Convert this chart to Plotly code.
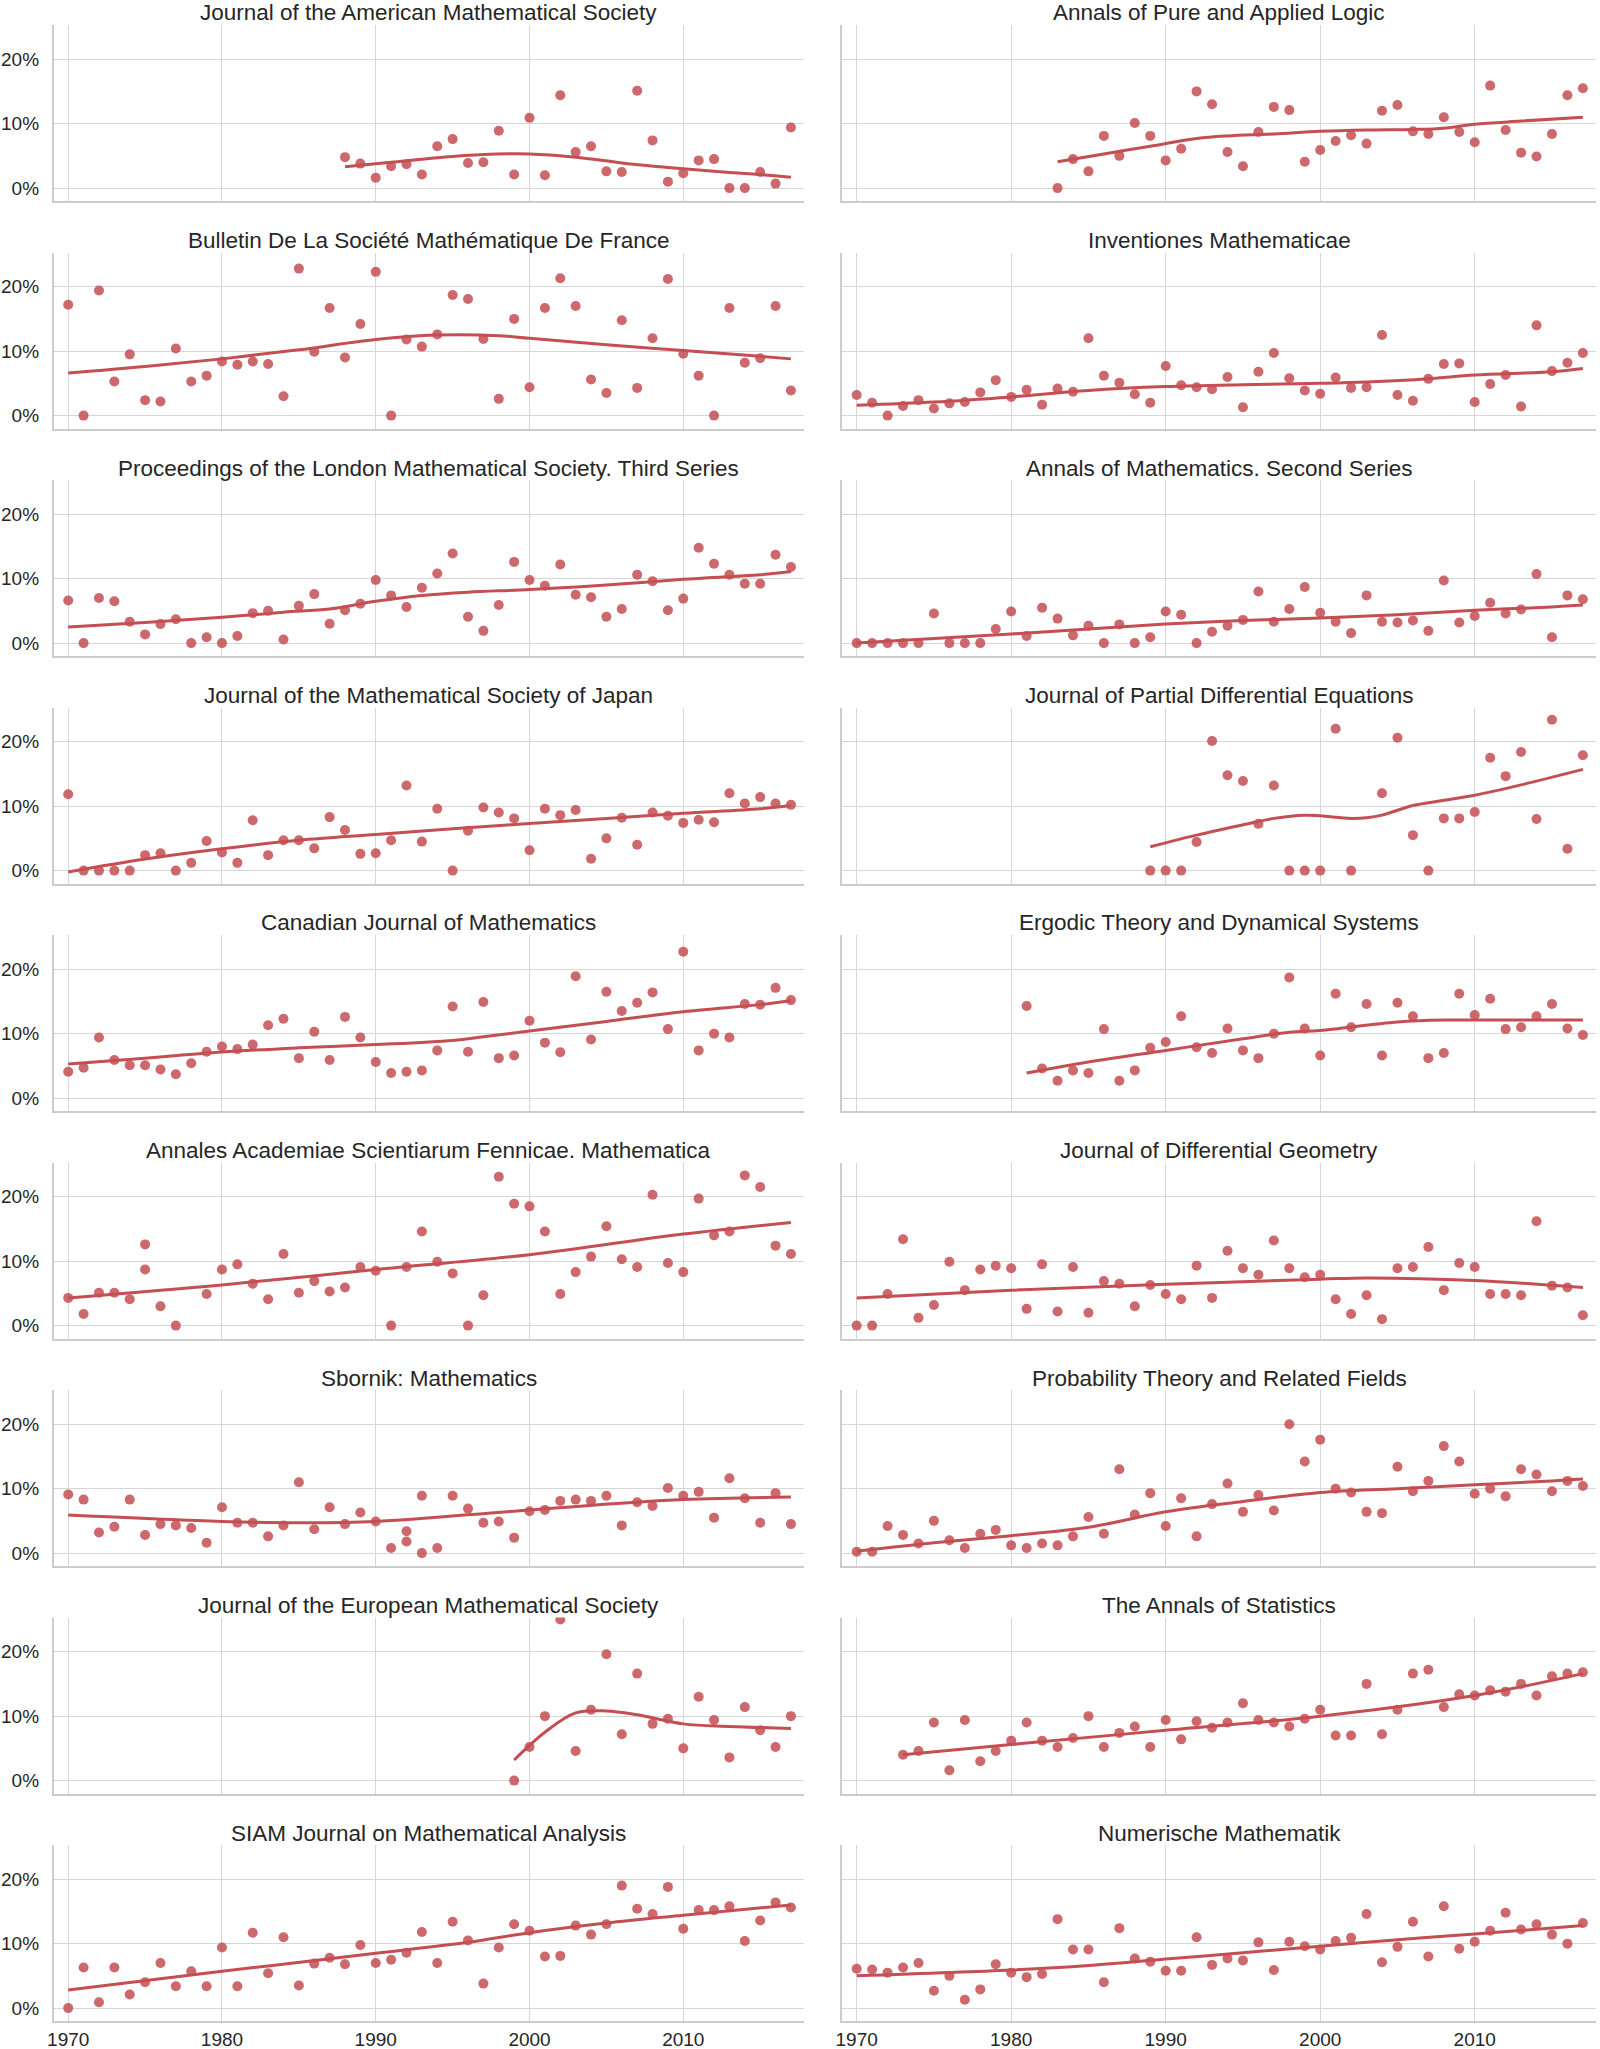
import plotly.graph_objects as go

# ---------------- data (percent) ----------------
titles = [
    "Journal of the American Mathematical Society", "Annals of Pure and Applied Logic",
    "Bulletin De La Société Mathématique De France", "Inventiones Mathematicae",
    "Proceedings of the London Mathematical Society. Third Series", "Annals of Mathematics. Second Series",
    "Journal of the Mathematical Society of Japan", "Journal of Partial Differential Equations",
    "Canadian Journal of Mathematics", "Ergodic Theory and Dynamical Systems",
    "Annales Academiae Scientiarum Fennicae. Mathematica", "Journal of Differential Geometry",
    "Sbornik: Mathematics", "Probability Theory and Related Fields",
    "Journal of the European Mathematical Society", "The Annals of Statistics",
    "SIAM Journal on Mathematical Analysis", "Numerische Mathematik",
]

x_ticks = [1970, 1980, 1990, 2000, 2010]
x_ticklabels = ["1970", "1980", "1990", "2000", "2010"]
y_ticks = [0, 10, 20]
y_ticklabels = ["0%", "10%", "20%"]

jams_years = list(range(1988, 2018))
jams_vals = [4.8, 3.8, 1.6, 3.4, 3.7, 2.1, 6.5, 7.6, 3.9, 4.0, 8.9, 2.1, 10.9, 2.0, 14.4, 5.6, 6.5, 2.6, 2.5, 15.1,
             7.4, 1.0, 2.3, 4.3, 4.5, 0, 0, 2.5, 0.7, 9.4]
jams_trend_years = [1988, 1991, 1994, 1997, 2000, 2003, 2006, 2009, 2012, 2015, 2017]
jams_trend = [3.3, 4.0, 4.7, 5.2, 5.3, 4.8, 3.9, 3.2, 2.6, 2.1, 1.7]

apal_years = list(range(1983, 2018))
apal_vals = [0, 4.5, 2.6, 8.1, 5.0, 10.1, 8.1, 4.3, 6.1, 15.0, 13.0, 5.6, 3.4, 8.7, 12.6, 12.1, 4.1, 5.9, 7.3, 8.2,
             6.9, 12.0, 12.9, 8.8, 8.4, 11.0, 8.7, 7.1, 15.9, 9.0, 5.5, 4.9, 8.4, 14.4, 15.5]
apal_trend_years = [1983, 1986, 1989, 1992, 1994, 1997, 2000, 2003, 2006, 2008, 2010, 2013, 2017]
apal_trend = [4.1, 5.3, 6.5, 7.7, 8.1, 8.4, 8.8, 9.0, 9.1, 9.3, 9.9, 10.4, 11.0]

bsmf_years = list(range(1970, 2018))
bsmf_vals = [17.2, 0, 19.4, 5.3, 9.5, 2.4, 2.2, 10.4, 5.3, 6.2,
             8.4, 7.9, 8.4, 8.0, 3.0, 22.8, 9.9, 16.7, 9.0, 14.2,
             22.3, 0, 11.8, 10.7, 12.6, 18.7, 18.1, 11.9, 2.6, 15.0,
             4.4, 16.7, 21.3, 17.0, 5.6, 3.5, 14.8, 4.3, 12.0, 21.2,
             9.6, 6.2, 0, 16.7, 8.2, 8.9, 17.0, 3.9]
bsmf_trend_years = [1970, 1975, 1980, 1985, 1990, 1994, 1998, 2000, 2005, 2010, 2015, 2017]
bsmf_trend = [6.6, 7.6, 8.8, 10.2, 11.8, 12.5, 12.4, 12.0, 11.0, 10.1, 9.2, 8.8]

inv_years = list(range(1970, 2018))
inv_vals = [3.2, 2.0, 0, 1.5, 2.4, 1.1, 1.9, 2.1, 3.6, 5.5,
            2.9, 4.0, 1.7, 4.2, 3.7, 12.0, 6.2, 5.1, 3.3, 2.0,
            7.7, 4.7, 4.4, 4.1, 6.0, 1.3, 6.8, 9.7, 5.8, 3.9,
            3.4, 5.9, 4.3, 4.4, 12.5, 3.2, 2.3, 5.7, 8.0, 8.1,
            2.1, 4.9, 6.3, 1.4, 14.0, 6.9, 8.2, 9.7]
inv_trend_years = [1970, 1975, 1980, 1985, 1990, 1995, 2000, 2003, 2007, 2010, 2015, 2017]
inv_trend = [1.6, 2.1, 2.9, 3.9, 4.5, 4.8, 5.0, 5.2, 5.7, 6.3, 6.8, 7.3]

plms_years = list(range(1970, 2018))
plms_vals = [6.6, 0, 7.0, 6.5, 3.3, 1.35, 2.95, 3.7, 0, 0.9,
             0, 1.1, 4.65, 5.0, 0.55, 5.8, 7.6, 3.0, 5.1, 6.1,
             9.8, 7.4, 5.6, 8.6, 10.8, 13.9, 4.1, 1.9, 5.9, 12.6,
             9.8, 8.9, 12.2, 7.5, 7.1, 4.1, 5.3, 10.6, 9.6, 5.1,
             6.9, 14.8, 12.3, 10.6, 9.2, 9.2, 13.7, 11.8]
plms_trend_years = [1970, 1975, 1980, 1984, 1987, 1990, 1993, 1996, 2000, 2005, 2010, 2015, 2017]
plms_trend = [2.5, 3.2, 4.0, 4.8, 5.3, 6.5, 7.4, 7.9, 8.3, 9.0, 9.9, 10.6, 11.1]

amath_years = list(range(1970, 2018))
amath_vals = [0, 0, 0, 0, 0, 4.6, 0, 0, 0, 2.2,
              4.9, 1.1, 5.5, 3.8, 1.2, 2.7, 0, 2.9, 0, 0.9,
              4.9, 4.4, 0, 1.75, 2.7, 3.6, 8.0, 3.3, 5.3, 8.7,
              4.7, 3.3, 1.55, 7.4, 3.3, 3.2, 3.5, 1.9, 9.7, 3.2,
              4.2, 6.25, 4.6, 5.2, 10.7, 0.9, 7.4, 6.8]
amath_trend_years = [1970, 1975, 1980, 1985, 1990, 1995, 2000, 2005, 2010, 2015, 2017]
amath_trend = [0, 0.7, 1.4, 2.2, 2.95, 3.5, 3.9, 4.4, 5.1, 5.6, 5.9]

jmsj_years = list(range(1970, 2018))
jmsj_vals = [11.85, 0, 0, 0, 0, 2.4, 2.7, 0, 1.2, 4.6,
             2.8, 1.2, 7.8, 2.4, 4.7, 4.7, 3.45, 8.3, 6.3, 2.6,
             2.7, 4.7, 13.2, 4.5, 9.6, 0, 6.2, 9.8, 9.0, 8.1,
             3.15, 9.6, 8.6, 9.4, 1.85, 5.0, 8.2, 4.0, 9.0, 8.5,
             7.4, 7.9, 7.5, 12.0, 10.4, 11.4, 10.4, 10.2]
jmsj_trend_years = [1970, 1975, 1980, 1985, 1990, 1995, 2000, 2005, 2010, 2015, 2017]
jmsj_trend = [-0.2, 1.8, 3.4, 4.7, 5.6, 6.5, 7.3, 8.1, 8.9, 9.6, 10.1]

jpde_years = [1989, 1990, 1991, 1992, 1993, 1994, 1995, 1996, 1997, 1998, 1999, 2000, 2001, 2002,
              2004, 2005, 2006, 2007, 2008, 2009, 2010, 2011, 2012, 2013, 2014, 2015, 2016, 2017]
jpde_vals = [0, 0, 0, 4.45, 20.1, 14.8, 13.9, 7.25, 13.2, 0, 0, 0, 22.0, 0,
             12.0, 20.6, 5.5, 0, 8.1, 8.1, 9.1, 17.5, 14.65, 18.4, 8.0, 23.4, 3.4, 17.9]
jpde_trend_years = [1989, 1992, 1995, 1997, 1999, 2000, 2002, 2003, 2004, 2006, 2008, 2010, 2013, 2017]
jpde_trend = [3.7, 5.5, 7.1, 8.1, 8.6, 8.5, 8.1, 8.2, 8.6, 10.1, 10.9, 11.7, 13.3, 15.7]

cjm_years = list(range(1970, 2018))
cjm_vals = [4.1, 4.7, 9.4, 5.9, 5.1, 5.1, 4.45, 3.7, 5.4, 7.2,
            8.0, 7.6, 8.3, 11.3, 12.3, 6.2, 10.3, 5.9, 12.6, 9.4,
            5.6, 3.9, 4.1, 4.3, 7.4, 14.2, 7.2, 14.9, 6.2, 6.6,
            12.0, 8.6, 7.1, 18.9, 9.1, 16.5, 13.5, 14.8, 16.4, 10.7,
            22.7, 7.4, 10.0, 9.4, 14.6, 14.5, 17.1, 15.2]
cjm_trend_years = [1970, 1975, 1980, 1985, 1990, 1995, 1997, 2000, 2005, 2010, 2015, 2017]
cjm_trend = [5.3, 6.2, 7.15, 7.8, 8.3, 8.95, 9.5, 10.4, 11.9, 13.4, 14.5, 15.1]

etds_years = list(range(1981, 2018))
etds_vals = [14.3, 4.6, 2.7, 4.3, 3.9, 10.7, 2.7, 4.3, 7.8,
             8.7, 12.7, 7.9, 7.0, 10.8, 7.4, 6.2, 10.0, 18.7, 10.8,
             6.6, 16.2, 11.0, 14.6, 6.6, 14.8, 12.7, 6.2, 7.0, 16.2,
             12.9, 15.4, 10.7, 11.0, 12.7, 14.6, 10.8, 9.8]
etds_trend_years = [1981, 1985, 1990, 1995, 1998, 2000, 2005, 2008, 2012, 2017]
etds_trend = [3.9, 5.6, 7.4, 9.2, 10.2, 10.5, 11.8, 12.1, 12.1, 12.1]

aasf_years = [1970, 1971, 1972, 1973, 1974, 1975, 1975, 1976, 1977, 1979,
              1980, 1981, 1982, 1983, 1984, 1985, 1986, 1987, 1988, 1989,
              1990, 1991, 1992, 1993, 1994, 1995, 1996, 1997, 1998, 1999,
              2000, 2001, 2002, 2003, 2004, 2005, 2006, 2007, 2008, 2009,
              2010, 2011, 2012, 2013, 2014, 2015, 2016, 2017]
aasf_vals = [4.3, 1.8, 5.1, 5.1, 4.1, 12.6, 8.7, 3.0, 0, 4.9,
             8.7, 9.5, 6.5, 4.1, 11.1, 5.1, 6.9, 5.3, 5.9, 9.1,
             8.5, 0, 9.1, 14.6, 9.9, 8.1, 0, 4.7, 23.1, 18.9,
             18.5, 14.6, 4.9, 8.3, 10.7, 15.4, 10.3, 9.1, 20.3, 9.7,
             8.3, 19.7, 14.0, 14.6, 23.3, 21.5, 12.4, 11.1]
aasf_trend_years = [1970, 1980, 1990, 2000, 2010, 2017]
aasf_trend = [4.3, 6.3, 8.7, 11.0, 14.2, 16.0]

jdg_years = list(range(1970, 2018))
jdg_vals = [0, 0, 4.9, 13.4, 1.2, 3.2, 9.9, 5.5, 8.7, 9.3,
            8.9, 2.6, 9.5, 2.2, 9.1, 2.0, 6.9, 6.5, 3.0, 6.3,
            4.9, 4.1, 9.3, 4.3, 11.6, 8.9, 7.9, 13.2, 8.9, 7.5,
            7.9, 4.1, 1.8, 4.7, 1.0, 8.9, 9.1, 12.2, 5.5, 9.7,
            9.1, 4.9, 4.9, 4.7, 16.2, 6.2, 5.9, 1.6]
jdg_trend_years = [1970, 1980, 1990, 2000, 2003, 2010, 2017]
jdg_trend = [4.3, 5.5, 6.4, 7.2, 7.4, 7.0, 5.9]

sbor_years = [1970, 1971, 1972, 1973, 1974, 1975, 1976, 1977, 1978, 1979,
              1980, 1981, 1982, 1983, 1984, 1985, 1986, 1987, 1988, 1989,
              1990, 1991, 1992, 1992, 1993, 1993, 1994, 1995, 1996, 1997, 1998, 1999,
              2000, 2001, 2002, 2003, 2004, 2005, 2006, 2007, 2008, 2009,
              2010, 2011, 2012, 2013, 2014, 2015, 2016, 2017]
sbor_vals = [9.1, 8.3, 3.2, 4.1, 8.3, 2.8, 4.5, 4.3, 3.9, 1.6,
             7.1, 4.7, 4.7, 2.6, 4.3, 11.0, 3.7, 7.1, 4.5, 6.3,
             4.9, 0.8, 3.4, 1.8, 0, 8.9, 0.8, 8.9, 6.9, 4.7, 4.9, 2.4,
             6.5, 6.7, 8.1, 8.3, 8.1, 8.9, 4.3, 7.9, 7.3, 10.1,
             8.9, 9.5, 5.5, 11.6, 8.5, 4.7, 9.3, 4.5]
sbor_trend_years = [1970, 1980, 1985, 1990, 2000, 2010, 2017]
sbor_trend = [5.9, 4.9, 4.7, 4.9, 6.7, 8.3, 8.7]

ptrf_years = list(range(1970, 2018))
ptrf_vals = [0.2, 0.2, 4.2, 2.8, 1.5, 5.0, 2.0, 0.8, 3.0, 3.6,
             1.2, 0.8, 1.5, 1.2, 2.6, 5.6, 3.0, 13.0, 6.0, 9.3,
             4.2, 8.5, 2.6, 7.6, 10.8, 6.4, 9.0, 6.6, 20.0, 14.2,
             17.6, 10.0, 9.4, 6.4, 6.2, 13.4, 9.6, 11.2, 16.6, 14.2,
             9.2, 10.0, 8.8, 13.0, 12.2, 9.6, 11.2, 10.4]
ptrf_trend_years = [1970, 1975, 1980, 1985, 1990, 1995, 2000, 2005, 2010, 2015, 2017]
ptrf_trend = [0.3, 1.6, 2.7, 4.0, 6.4, 8.0, 9.4, 10.0, 10.6, 11.2, 11.5]

jems_years = list(range(1999, 2018))
jems_vals = [0, 5.2, 10.0, 25.0, 4.6, 11.0, 19.6, 7.2, 16.6, 8.8, 9.6, 5.0, 13.0, 9.4, 3.6, 11.4, 7.8, 5.2, 10.0]
jems_trend_years = [1999, 2001, 2003, 2005, 2007, 2010, 2013, 2017]
jems_trend = [3.2, 7.5, 10.5, 10.8, 10.2, 8.8, 8.4, 8.1]

aos_years = list(range(1973, 2018))
aos_vals = [4.0, 4.6, 9.0, 1.6, 9.4, 3.0, 4.6, 6.2, 9.0, 6.2,
            5.2, 6.6, 10.0, 5.2, 7.4, 8.4, 5.2, 9.4, 6.4, 9.2,
            8.2, 9.0, 12.0, 9.4, 9.0, 8.4, 9.6, 11.0, 7.0, 7.0,
            15.0, 7.2, 11.0, 16.6, 17.2, 11.4, 13.4, 13.2, 14.0, 13.8,
            15.0, 13.2, 16.2, 16.6, 16.8]
aos_trend_years = [1973, 1980, 1990, 2000, 2010, 2017]
aos_trend = [4.0, 5.6, 7.8, 10.0, 13.2, 16.6]

siam_years = list(range(1970, 2018))
siam_vals = [0, 6.3, 0.9, 6.3, 2.1, 4.0, 7.0, 3.4, 5.7, 3.4,
             9.4, 3.4, 11.7, 5.4, 11.0, 3.5, 6.9, 7.8, 6.8, 9.8,
             7.0, 7.5, 8.6, 11.8, 7.0, 13.4, 10.5, 3.8, 9.4, 13.0,
             12.0, 8.0, 8.1, 12.8, 11.4, 13.0, 19.0, 15.4, 14.6, 18.8,
             12.3, 15.2, 15.2, 15.8, 10.4, 13.6, 16.4, 15.6]
siam_trend_years = [1970, 1980, 1990, 1996, 2000, 2005, 2010, 2017]
siam_trend = [2.8, 5.7, 8.5, 10.2, 11.7, 13.2, 14.4, 16.0]

num_years = list(range(1970, 2018))
num_vals = [6.1, 6.0, 5.5, 6.3, 7.0, 2.7, 5.0, 1.3, 2.9, 6.8,
            5.5, 4.8, 5.3, 13.8, 9.1, 9.1, 4.0, 12.4, 7.7, 7.2,
            5.8, 5.8, 11.0, 6.7, 7.7, 7.4, 10.2, 5.9, 10.3, 9.6,
            9.1, 10.4, 10.9, 14.6, 7.1, 9.5, 13.4, 8.0, 15.8, 9.2,
            10.3, 12.0, 14.8, 12.2, 13.0, 11.4, 10.0, 13.2]
num_trend_years = [1970, 1980, 1985, 1990, 1995, 2000, 2005, 2010, 2017]
num_trend = [5.0, 5.9, 6.6, 7.6, 8.6, 9.6, 10.6, 11.5, 12.8]

panels = [
    (jams_years, jams_vals, jams_trend_years, jams_trend),
    (apal_years, apal_vals, apal_trend_years, apal_trend),
    (bsmf_years, bsmf_vals, bsmf_trend_years, bsmf_trend),
    (inv_years, inv_vals, inv_trend_years, inv_trend),
    (plms_years, plms_vals, plms_trend_years, plms_trend),
    (amath_years, amath_vals, amath_trend_years, amath_trend),
    (jmsj_years, jmsj_vals, jmsj_trend_years, jmsj_trend),
    (jpde_years, jpde_vals, jpde_trend_years, jpde_trend),
    (cjm_years, cjm_vals, cjm_trend_years, cjm_trend),
    (etds_years, etds_vals, etds_trend_years, etds_trend),
    (aasf_years, aasf_vals, aasf_trend_years, aasf_trend),
    (jdg_years, jdg_vals, jdg_trend_years, jdg_trend),
    (sbor_years, sbor_vals, sbor_trend_years, sbor_trend),
    (ptrf_years, ptrf_vals, ptrf_trend_years, ptrf_trend),
    (jems_years, jems_vals, jems_trend_years, jems_trend),
    (aos_years, aos_vals, aos_trend_years, aos_trend),
    (siam_years, siam_vals, siam_trend_years, siam_trend),
    (num_years, num_vals, num_trend_years, num_trend),
]

# ---------------- figure ----------------
W, H = 1600, 2049
FONT = "Arial, Liberation Sans, sans-serif"
TXT = "#262626"
GRID = "#d6d6d6"
SPINE = "#cccccc"
DOT = "rgba(196,78,82,0.85)"
LINE = "#c44e52"

col_px = [(53.6, 804.0), (842.0, 1596.0)]   # page pixels
row_pitch = 227.5
top0, bot0 = 25.0, 201.0


def px_x(p):
    return p / W


def px_y(p):
    return 1 - p / H


fig = go.Figure()
layout = dict(
    width=W, height=H, autosize=False,
    margin=dict(l=0, r=0, t=0, b=0, pad=0, autoexpand=False),
    paper_bgcolor="white", plot_bgcolor="white",
    showlegend=False, font=dict(family=FONT, color=TXT),
)
annotations = []

for k, (yrs, vals, tyrs, tvals) in enumerate(panels):
    r, c = divmod(k, 2)
    sfx = "" if k == 0 else str(k + 1)
    xa, ya = "x" + sfx, "y" + sfx
    fig.add_trace(go.Scatter(x=yrs, y=vals, mode="markers",
                             marker=dict(size=10, color=DOT, line=dict(width=0)),
                             xaxis=xa, yaxis=ya, hoverinfo="skip"))
    fig.add_trace(go.Scatter(x=tyrs, y=tvals, mode="lines",
                             line=dict(color=LINE, width=3, shape="spline", smoothing=1.0),
                             xaxis=xa, yaxis=ya, hoverinfo="skip"))
    x0, x1 = col_px[c]
    t_px = top0 + row_pitch * r
    b_px = bot0 + row_pitch * r
    layout["xaxis" + sfx] = dict(
        domain=[px_x(x0), px_x(x1)], anchor=ya, range=[1969.05, 2017.85], automargin=False,
        tickmode="array", tickvals=x_ticks, ticktext=x_ticklabels, showticklabels=(r == 8),
        tickfont=dict(size=19, color=TXT, family=FONT),
        ticks="",
        showgrid=True, gridcolor=GRID, gridwidth=1,
        showline=True, linecolor=SPINE, linewidth=1.5, zeroline=False,
    )
    layout["yaxis" + sfx] = dict(
        domain=[px_y(b_px), px_y(t_px)], anchor=xa, range=[-2.0, 25.3], automargin=False,
        tickmode="array", tickvals=y_ticks, ticktext=y_ticklabels, showticklabels=(c == 0),
        tickfont=dict(size=19, color=TXT, family=FONT),
        ticks="outside", ticklen=9, tickcolor="rgba(0,0,0,0)",
        showgrid=True, gridcolor=GRID, gridwidth=1,
        showline=True, linecolor=SPINE, linewidth=1.5, zeroline=False,
    )
    annotations.append(dict(
        text=titles[k], x=px_x((x0 + x1) / 2), y=px_y(13 + row_pitch * r),
        xref="paper", yref="paper", xanchor="center", yanchor="middle",
        showarrow=False, font=dict(size=22.5, color=TXT, family=FONT),
    ))

layout["annotations"] = annotations
fig.update_layout(**layout)
# remove the browser's default page margin so the figure sits at the window's top-left corner
fig.write_html("out.html", config={"displayModeBar": False},
               post_script="document.body.style.margin='0';")
